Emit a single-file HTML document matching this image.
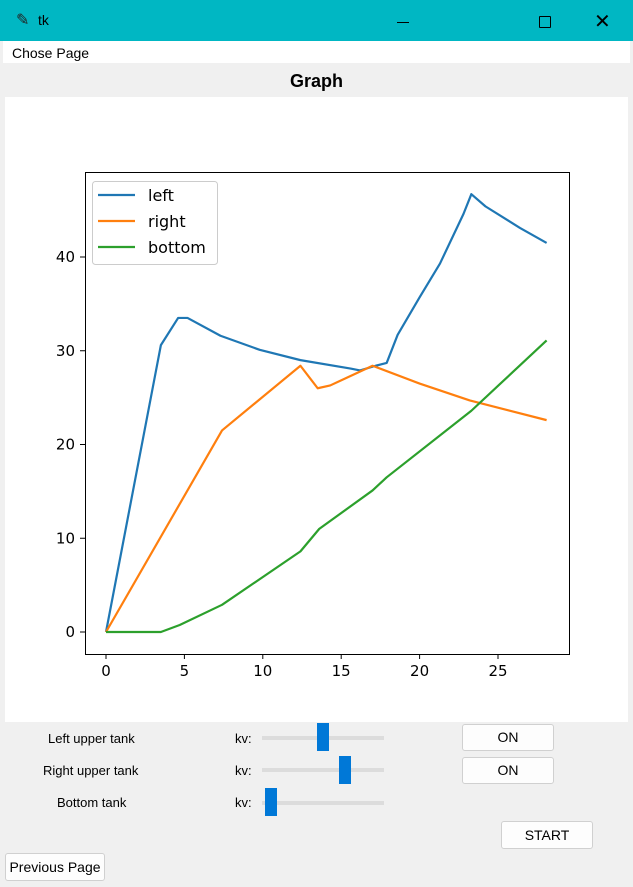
<!DOCTYPE html>
<html><head><meta charset="utf-8"><style>
body{margin:0;width:633px;height:887px;overflow:hidden;background:#fff;font-family:"Liberation Sans",sans-serif;}
.win{position:absolute;left:0;top:0;width:633px;height:887px;background:#f0f0f0;}
.tb{position:absolute;left:0;top:0;width:633px;height:41px;background:#00b7c3;}
.menu{position:absolute;left:3px;top:41px;width:627px;height:22px;background:#fff;font-size:14px;}
.lbl{position:absolute;font-size:13px;color:#000;}
.btn{position:absolute;background:#fdfdfd;border:1px solid #d0d0d0;border-radius:3px;font-size:14px;text-align:center;}
.trough{position:absolute;height:4px;background:#dcdcdc;}
.thumb{position:absolute;width:12px;height:28px;background:#0078d7;}
</style></head><body>
<div class="win">
<div class="tb">
<span style="position:absolute;left:16px;top:10px;font-size:16px;color:#222;">✎</span>
<span style="position:absolute;left:38px;top:12px;font-size:14px;color:#000;">tk</span>
<div style="position:absolute;left:397px;top:22px;width:12px;height:1px;background:#000;"></div>
<div style="position:absolute;left:539px;top:16px;width:10px;height:10px;border:1px solid #000;border-radius:1px;"></div>
<span style="position:absolute;left:594px;top:9px;font-size:20px;color:#000;">✕</span>
</div>
<div class="menu"><span style="position:absolute;left:9px;top:4px;">Chose Page</span></div>
<div style="position:absolute;left:0;top:63px;width:633px;height:34px;text-align:center;font-weight:bold;font-size:18px;line-height:36px;">Graph</div>
<div style="position:absolute;left:5px;top:97px;width:623px;height:625px;background:#fff;">
<svg id="chart" width="623" height="625" style="position:absolute;left:-5px;top:-97px;overflow:visible"></svg>
</div>
<div class="lbl" style="left:48px;top:731px;">Left upper tank</div>
<div class="lbl" style="left:43px;top:763px;">Right upper tank</div>
<div class="lbl" style="left:57px;top:795px;">Bottom tank</div>
<div class="lbl" style="left:235px;top:731px;">kv:</div>
<div class="lbl" style="left:235px;top:763px;">kv:</div>
<div class="lbl" style="left:235px;top:795px;">kv:</div>
<div class="trough" style="left:262px;top:736px;width:122px"></div>
<div class="thumb" style="left:317px;top:723px"></div>
<div class="trough" style="left:262px;top:768px;width:122px"></div>
<div class="thumb" style="left:339px;top:756px"></div>
<div class="trough" style="left:262px;top:801px;width:122px"></div>
<div class="thumb" style="left:265px;top:788px"></div>
<div class="btn" style="left:462px;top:724px;width:90px;height:25px;line-height:25px">ON</div>
<div class="btn" style="left:462px;top:757px;width:90px;height:25px;line-height:25px">ON</div>
<div class="btn" style="left:501px;top:821px;width:90px;height:26px;line-height:26px">START</div>
<div class="btn" style="left:5px;top:853px;width:98px;height:26px;line-height:26px">Previous Page</div>
</div>
<script>
const leftX=[0,3.5,4.6,5.2,7.3,9.8,12.4,15.6,16.2,17.2,17.9,18.6,20,21.3,22.8,23.3,24.2,26.4,28.1];
const leftY=[0,30.6,33.5,33.5,31.6,30.1,29.0,28.1,27.9,28.4,28.7,31.7,35.7,39.3,44.6,46.7,45.4,43.1,41.5];
const rightX=[0,7.4,12.4,13.5,14.3,17,20,23.2,28.1];
const rightY=[0,21.5,28.4,26.0,26.3,28.4,26.5,24.7,22.6];
const bottomX=[0,3.5,4.7,7.4,12.4,13.6,17,17.9,23.3,28.1];
const bottomY=[0,0,0.75,2.9,8.6,11.0,15.1,16.5,23.6,31.1];
const xTicks=[0,5,10,15,20,25];
const yTicks=[0,10,20,30,40];
const seriesNames=["left","right","bottom"];
const NS="http://www.w3.org/2000/svg";
const svg=document.getElementById('chart');
function sx(v){return 106+v*15.68;}
function sy(v){return 632-v*9.375;}
function mk(t,a){const e=document.createElementNS(NS,t);for(const k in a)e.setAttribute(k,a[k]);svg.appendChild(e);return e;}
const ax=mk('rect',{x:85.5,y:172.5,width:484,height:482,fill:'none',stroke:'#000','stroke-width':1});


xTicks.forEach(v=>{
 const l=mk('line',{x1:sx(v),x2:sx(v),y1:654,y2:659,stroke:'#000'});
 
 
 const t=mk('text',{x:sx(v),y:676,'text-anchor':'middle','font-size':15,'font-family':'DejaVu Sans, sans-serif'});
 t.textContent=v;
 
 
});
yTicks.forEach(v=>{
 const l=mk('line',{x1:80,x2:85,y1:sy(v),y2:sy(v),stroke:'#000'});
 
 
 const t=mk('text',{x:75,y:sy(v)+5,'text-anchor':'end','font-size':15,'font-family':'DejaVu Sans, sans-serif'});
 t.textContent=v;
 
 
});
const colors=['#1f77b4','#ff7f0e','#2ca02c'];
[[leftX,leftY],[rightX,rightY],[bottomX,bottomY]].forEach((s,i)=>{
 const p=mk('polyline',{points:s[0].map((x,j)=>sx(x)+','+sy(s[1][j])).join(' '),fill:'none',stroke:colors[i],'stroke-width':2.2,'stroke-linejoin':'round'});
 
 
});
const lg=mk('rect',{x:92.5,y:181.5,width:125,height:83,rx:3,fill:'#fff','fill-opacity':0.8,stroke:'#ccc'});


seriesNames.forEach((n,i)=>{
 const y=195+i*26;
 const l=mk('line',{x1:98,x2:135,y1:y,y2:y,stroke:colors[i],'stroke-width':2.2});
 
 
 const t=mk('text',{x:148,y:y+6,'font-size':16,'font-family':'DejaVu Sans, sans-serif'});
 t.textContent=n;
 
 
});
</script>
</body></html>
